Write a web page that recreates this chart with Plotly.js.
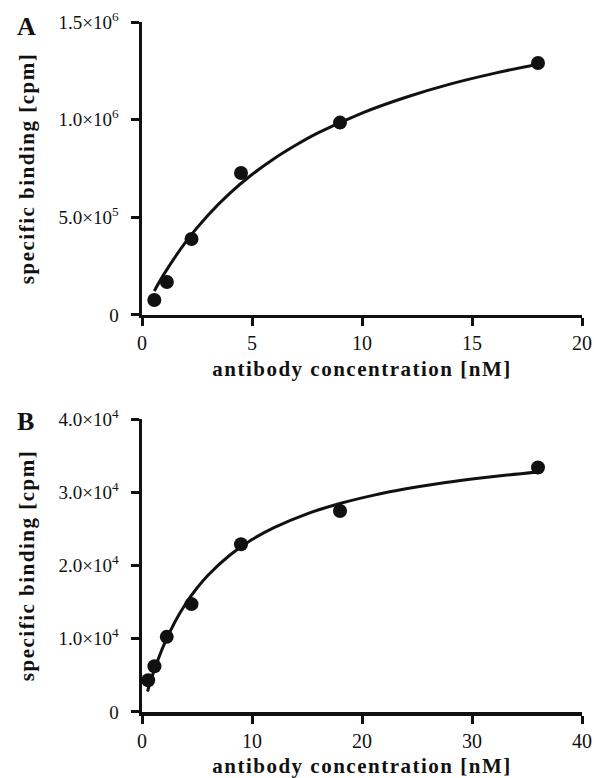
<!DOCTYPE html>
<html>
<head>
<meta charset="utf-8">
<script src="https://cdn.plot.ly/plotly-3.0.1.min.js"></script>
<style>
  html, body { margin: 0; padding: 0; background: #fff; }
  #chart { width: 594px; height: 778px; }
  text.xtitle, text.x2title, text.ytitle, text.y2title { letter-spacing: 1.5px; }
</style>
</head>
<body>
<div id="chart"></div>
<script>
// ---- Panel A data ----
const concA = [0.56, 1.13, 2.25, 4.5, 9, 18];
const bindA = [77000, 169000, 389000, 727000, 985000, 1290000];
const fitXA = [0.56, 1, 2, 3, 4, 5, 6, 7, 8, 10, 12, 14, 16, 18];
const fitYA = [123000, 209000, 376000, 511000, 624000, 719000, 800000, 870000, 932000, 1034000, 1115000, 1182000, 1237000, 1284000];
const tickValsYA = [0, 500000, 1000000, 1500000];
const tickTextYA = ["0", "5.0×10<sup>5</sup>", "1.0×10<sup>6</sup>", "1.5×10<sup>6</sup>"];
const tickValsXA = [0, 5, 10, 15, 20];

// ---- Panel B data ----
const concB = [0.56, 1.13, 2.25, 4.5, 9, 18, 36];
const bindB = [4340, 6250, 10260, 14730, 22900, 27450, 33380];
const fitXB = [0.5, 1, 2, 3, 4, 5, 6, 8, 10, 12, 15, 18, 21, 24, 27, 30, 33, 36];
const fitYB = [2800, 5220, 9190, 12320, 14850, 16930, 18680, 21440, 23540, 25170, 27060, 28470, 29580, 30470, 31200, 31800, 32320, 32770];
const tickValsYB = [0, 10000, 20000, 30000, 40000];
const tickTextYB = ["0", "1.0×10<sup>4</sup>", "2.0×10<sup>4</sup>", "3.0×10<sup>4</sup>", "4.0×10<sup>4</sup>"];
const tickValsXB = [0, 10, 20, 30, 40];

const panelLabels = ["A", "B"];
const xTitle = "antibody concentration [nM]";
const yTitle = "specific binding [cpm]";

const ink = "#111111";
const serif = "Liberation Serif, Times New Roman, serif";

const traces = [
  {x: fitXA, y: fitYA, mode: "lines", line: {color: ink, width: 3, shape: "spline"}, xaxis: "x", yaxis: "y", hoverinfo: "skip", cliponaxis: false},
  {x: concA, y: bindA, mode: "markers", marker: {color: ink, size: 14}, xaxis: "x", yaxis: "y", cliponaxis: false},
  {x: fitXB, y: fitYB, mode: "lines", line: {color: ink, width: 3, shape: "spline"}, xaxis: "x2", yaxis: "y2", hoverinfo: "skip", cliponaxis: false},
  {x: concB, y: bindB, mode: "markers", marker: {color: ink, size: 14}, xaxis: "x2", yaxis: "y2", cliponaxis: false}
];

function xAxis(range, vals, anchor) {
  return {
    range: range, tickmode: "array", tickvals: vals, ticktext: vals.map(String),
    showgrid: false, zeroline: false, showline: true, linecolor: ink, linewidth: 3.5,
    ticks: "outside", ticklen: 8, tickwidth: 3, tickcolor: ink,
    tickfont: {family: serif, size: 20, color: ink},
    title: {text: xTitle, font: {family: serif, size: 21, color: ink, weight: "bold"}, standoff: 9},
    anchor: anchor, fixedrange: true, automargin: false
  };
}
function yAxis(range, vals, text, domain, anchor) {
  return {
    range: range, tickmode: "array", tickvals: vals, ticktext: text, domain: domain,
    showgrid: false, zeroline: false, showline: true, linecolor: ink, linewidth: 3.5,
    ticks: "outside", ticklen: 8, tickwidth: 3, tickcolor: ink, ticklabelstandoff: 8,
    tickfont: {family: serif, size: 19, color: ink},
    title: {text: yTitle, font: {family: serif, size: 21, color: ink, weight: "bold"}, standoff: 19},
    anchor: anchor, fixedrange: true, automargin: false
  };
}

const layout = {
  width: 594, height: 778,
  margin: {l: 142, r: 12, t: 22, b: 66},
  paper_bgcolor: "#fff", plot_bgcolor: "#fff",
  showlegend: false,
  xaxis: xAxis([0, 20], tickValsXA, "y"),
  yaxis: yAxis([0, 1500000], tickValsYA, tickTextYA, [0.5754, 1], "x"),
  xaxis2: xAxis([0, 40], tickValsXB, "y2"),
  yaxis2: yAxis([0, 40000], tickValsYB, tickTextYB, [0, 0.4246], "x2"),
  annotations: [
    {text: "<b>" + panelLabels[0] + "</b>", xref: "paper", yref: "paper", x: -0.262, y: 0.993, xanchor: "center", yanchor: "middle", showarrow: false, font: {family: serif, size: 26, color: ink}},
    {text: "<b>" + panelLabels[1] + "</b>", xref: "paper", yref: "paper", x: -0.264, y: 0.421, xanchor: "center", yanchor: "middle", showarrow: false, font: {family: serif, size: 26, color: ink}}
  ]
};

Plotly.newPlot("chart", traces, layout, {staticPlot: true, displayModeBar: false});
</script>
</body>
</html>
